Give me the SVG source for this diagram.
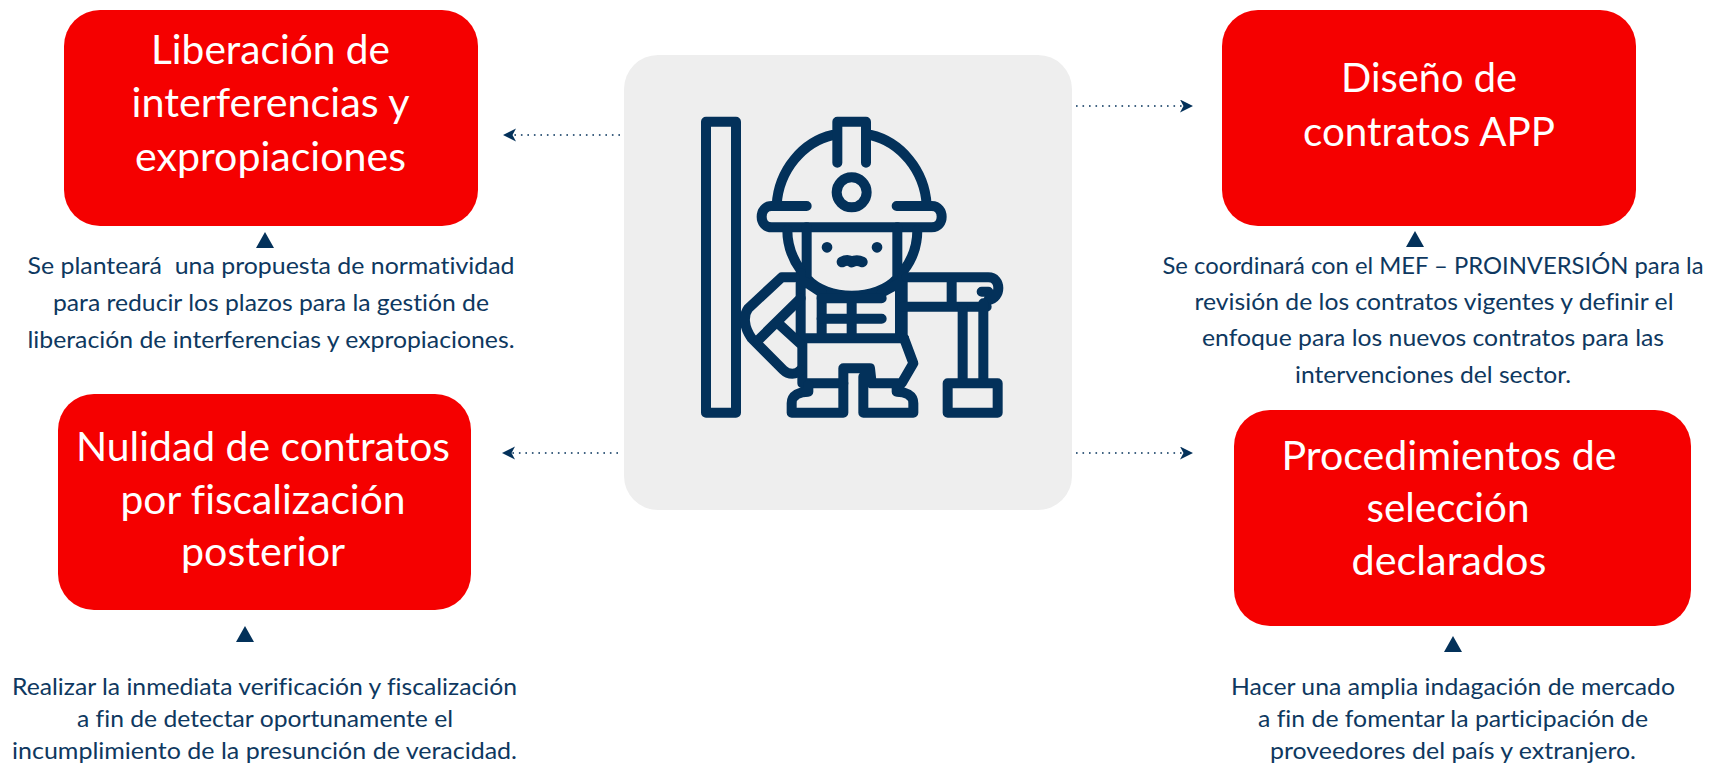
<svg xmlns="http://www.w3.org/2000/svg" width="1717" height="763" viewBox="0 0 1717 763">
<style>
text{font-family:"Lato","Open Sans",sans-serif;text-anchor:middle;white-space:pre;font-variant-ligatures:none}
.t{font-size:40px;fill:#fff}
.p{font-size:24px;fill:#0e3860}
.b{fill:#f50000}
.tri{fill:#03315a}
.ic{fill:none;stroke:#03315a;stroke-width:30;stroke-linecap:round;stroke-linejoin:round}
.c{fill:none;stroke:#03315a;stroke-width:1.6;stroke-dasharray:1.6 4.9}
</style>
<defs><marker id="a" markerUnits="userSpaceOnUse" markerWidth="14" markerHeight="14" refX="13" refY="6.5" orient="auto"><path d="M0 0L13 6.5L0 13L3.5 6.5Z" fill="#03315a"/></marker></defs>
<rect width="1717" height="763" fill="#fff"/>
<g id="panel">
<rect x="624" y="55" width="448" height="455" rx="34" fill="#eeeeee"/>
<g class="ic" transform="translate(680 90) scale(.33333)">
<rect x="78" y="95" width="90" height="873"/>
<path d="M290 345C296 240 370 155 458 135M572 135C660 155 734 240 740 345"/>
<path d="M472 218V95H558V218"/>
<circle cx="515" cy="307" r="45"/>
<path d="M380 348H275C235 348 235 412 275 412H755C795 412 795 348 755 348H650"/>
<path d="M380 412V565M652 412V565M380 565C440 635 590 635 652 565"/>
<path d="M322 420C322 470 340 510 362 540M712 420C712 470 695 510 672 540"/>
<path d="M441 472h.1M591 472h.1" stroke-width="32"/>
<path d="M486 516C500 508 510 512 515 516C522 512 532 508 547 516" stroke-width="32"/>
<path d="M362 550V745H672M367 745V880H490M668 560V745M375 575L425 608V745M605 608L660 578V745"/>
<path d="M425 625H605M425 686H605M515 625V735"/>
<path d="M672 745L700 820L665 880H575L570 835H490V968H335V940C335 915 360 905 385 905V885M550 860V968H700V940C700 915 675 905 650 905V885" />
<path d="M680 562H925C965 562 965 625 925 630M668 650H920M815 570V640M905 605H925"/>
<path d="M848 655V870M910 640V870"/>
<rect x="803" y="880" width="150" height="88"/>
<path d="M345 562H305L205 655C190 675 190 710 215 745L310 840C325 855 350 855 362 840"/>
<path d="M362 625L235 750M300 705L360 760"/>
</g>
</g>
<g id="connectors">
<path class="c" marker-end="url(#a)" d="M620 135H503"/>
<path class="c" marker-end="url(#a)" d="M1076 106H1193"/>
<path class="c" marker-end="url(#a)" d="M618 453H502"/>
<path class="c" marker-end="url(#a)" d="M1076 453H1193"/>
</g>
<g id="node-liberacion">
<rect class="b" x="64" y="10" width="414" height="216" rx="36"/>
<text class="t" x="270.500" y="64" textLength="239" lengthAdjust="spacingAndGlyphs">Liberación de</text>
<text class="t" x="270.500" y="117" textLength="278" lengthAdjust="spacingAndGlyphs">interferencias y</text>
<text class="t" x="270.500" y="171" textLength="271" lengthAdjust="spacingAndGlyphs">expropiaciones</text>
<path class="tri" d="M265 232L274 248H256Z"/>
<text class="p" x="271" y="274" textLength="487" lengthAdjust="spacingAndGlyphs">Se planteará  una propuesta de normatividad</text>
<text class="p" x="271" y="311" textLength="436" lengthAdjust="spacingAndGlyphs">para reducir los plazos para la gestión de</text>
<text class="p" x="271" y="348" textLength="487" lengthAdjust="spacingAndGlyphs">liberación de interferencias y expropiaciones.</text>
</g>
<g id="node-diseno">
<rect class="b" x="1222" y="10" width="414" height="216" rx="36"/>
<text class="t" x="1429" y="92" textLength="176" lengthAdjust="spacingAndGlyphs">Diseño de</text>
<text class="t" x="1429" y="146" textLength="252" lengthAdjust="spacingAndGlyphs">contratos APP</text>
<path class="tri" d="M1415 231L1424 247H1406Z"/>
<text class="p" x="1433" y="274" textLength="541" lengthAdjust="spacingAndGlyphs">Se coordinará con el MEF – PROINVERSIÓN para la</text>
<text class="p" x="1434" y="310" textLength="479" lengthAdjust="spacingAndGlyphs">revisión de los contratos vigentes y definir el</text>
<text class="p" x="1433" y="346" textLength="462" lengthAdjust="spacingAndGlyphs">enfoque para los nuevos contratos para las</text>
<text class="p" x="1433" y="383" textLength="276" lengthAdjust="spacingAndGlyphs">intervenciones del sector.</text>
</g>
<g id="node-nulidad">
<rect class="b" x="58" y="394" width="413" height="216" rx="36"/>
<text class="t" x="263" y="461" textLength="374" lengthAdjust="spacingAndGlyphs">Nulidad de contratos</text>
<text class="t" x="263" y="514" textLength="285" lengthAdjust="spacingAndGlyphs">por fiscalización</text>
<text class="t" x="263" y="566" textLength="164" lengthAdjust="spacingAndGlyphs">posterior</text>
<path class="tri" d="M245 626L254 642H236Z"/>
<text class="p" x="264.500" y="695" textLength="505" lengthAdjust="spacingAndGlyphs">Realizar la inmediata verificación y fiscalización</text>
<text class="p" x="265" y="727" textLength="376" lengthAdjust="spacingAndGlyphs">a fin de detectar oportunamente el</text>
<text class="p" x="264.500" y="759" textLength="505" lengthAdjust="spacingAndGlyphs">incumplimiento de la presunción de veracidad.</text>
</g>
<g id="node-procedimientos">
<rect class="b" x="1234" y="410" width="457" height="216" rx="36"/>
<text class="t" x="1449" y="470" textLength="335" lengthAdjust="spacingAndGlyphs">Procedimientos de</text>
<text class="t" x="1448" y="522" textLength="163" lengthAdjust="spacingAndGlyphs">selección</text>
<text class="t" x="1449" y="575" textLength="195" lengthAdjust="spacingAndGlyphs">declarados</text>
<path class="tri" d="M1453 636L1462 652H1444Z"/>
<text class="p" x="1453" y="695" textLength="444" lengthAdjust="spacingAndGlyphs">Hacer una amplia indagación de mercado</text>
<text class="p" x="1453" y="727" textLength="390" lengthAdjust="spacingAndGlyphs">a fin de fomentar la participación de</text>
<text class="p" x="1453" y="759" textLength="366" lengthAdjust="spacingAndGlyphs">proveedores del país y extranjero.</text>
</g>
</svg>
